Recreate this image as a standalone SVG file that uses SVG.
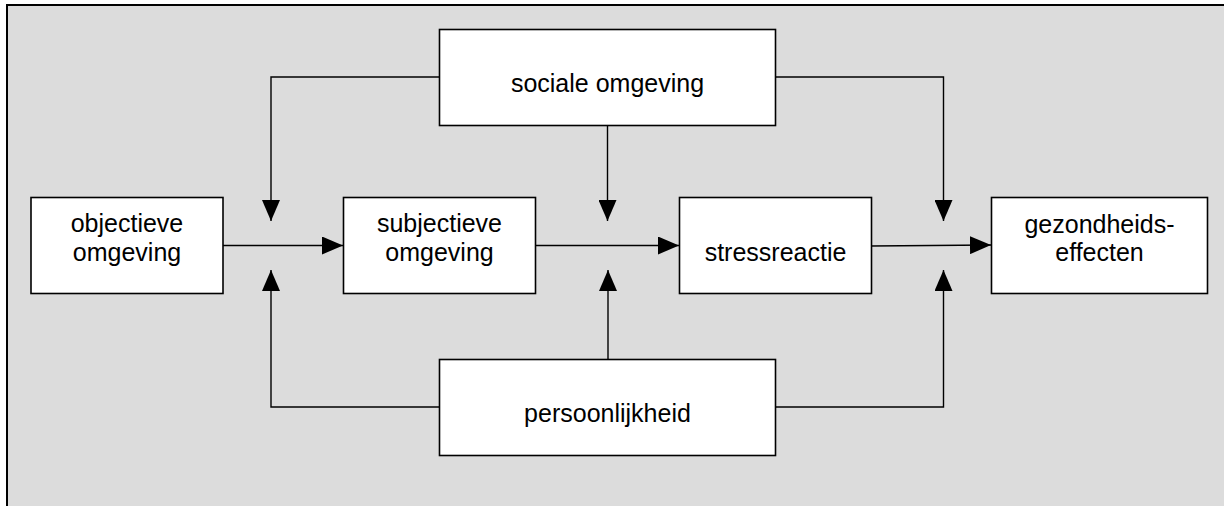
<svg xmlns="http://www.w3.org/2000/svg" width="1224" height="506" viewBox="0 0 1224 506">
  <defs>
    <style>
      .frame { fill: #dcdcdc; stroke: #000; stroke-width: 2; }
      .box { fill: #fff; stroke: #000; stroke-width: 1.6; }
      .label { font-family: "Liberation Sans", Arial, sans-serif; font-size: 25px; fill: #000; text-anchor: middle; }
      .link { fill: none; stroke: #000; stroke-width: 1.4; }
    </style>
    <marker id="arrow" markerUnits="userSpaceOnUse" markerWidth="21" markerHeight="18" refX="21" refY="9" orient="auto">
      <path d="M0,0 L21,9 L0,18 Z" fill="#000"/>
    </marker>
  </defs>

  <rect width="1224" height="506" fill="#fff"/>
  <!-- panel background, runs past the right and bottom edges -->
  <rect class="frame" x="7" y="5" width="1240" height="520"/>

  <g id="connectors">
    <!-- main chain -->
    <line class="link" x1="223" y1="245.5" x2="343" y2="245.5" marker-end="url(#arrow)"/>
    <line class="link" x1="535" y1="245.5" x2="679" y2="245.5" marker-end="url(#arrow)"/>
    <line class="link" x1="871" y1="246" x2="991" y2="245" marker-end="url(#arrow)"/>
    <!-- sociale omgeving moderators -->
    <polyline class="link" points="439,77 271,77 271,221" marker-end="url(#arrow)"/>
    <line class="link" x1="607.5" y1="126" x2="607.5" y2="221" marker-end="url(#arrow)"/>
    <polyline class="link" points="776,77 943.5,77 943.5,221" marker-end="url(#arrow)"/>
    <!-- persoonlijkheid moderators -->
    <polyline class="link" points="439,407 271,407 271,270" marker-end="url(#arrow)"/>
    <line class="link" x1="608" y1="359" x2="608" y2="270" marker-end="url(#arrow)"/>
    <polyline class="link" points="776,407 943.5,407 943.5,270" marker-end="url(#arrow)"/>
  </g>

  <g id="objectieve-omgeving">
    <rect class="box" x="31" y="197.5" width="192" height="96"/>
    <text class="label" x="127" y="232">objectieve</text>
    <text class="label" x="127" y="261">omgeving</text>
  </g>

  <g id="subjectieve-omgeving">
    <rect class="box" x="343.5" y="197.5" width="192" height="96"/>
    <text class="label" x="439.5" y="232">subjectieve</text>
    <text class="label" x="439.5" y="261">omgeving</text>
  </g>

  <g id="stressreactie">
    <rect class="box" x="679.5" y="197.5" width="192" height="96"/>
    <text class="label" x="775.5" y="261">stressreactie</text>
  </g>

  <g id="gezondheidseffecten">
    <rect class="box" x="991.5" y="197.5" width="216" height="96"/>
    <text class="label" x="1099.5" y="233">gezondheids-</text>
    <text class="label" x="1099.5" y="261">effecten</text>
  </g>

  <g id="sociale-omgeving">
    <rect class="box" x="439.5" y="29.5" width="336" height="96"/>
    <text class="label" x="607.5" y="92">sociale omgeving</text>
  </g>

  <g id="persoonlijkheid">
    <rect class="box" x="439.5" y="359.5" width="336" height="96"/>
    <text class="label" x="607.5" y="422">persoonlijkheid</text>
  </g>
</svg>
